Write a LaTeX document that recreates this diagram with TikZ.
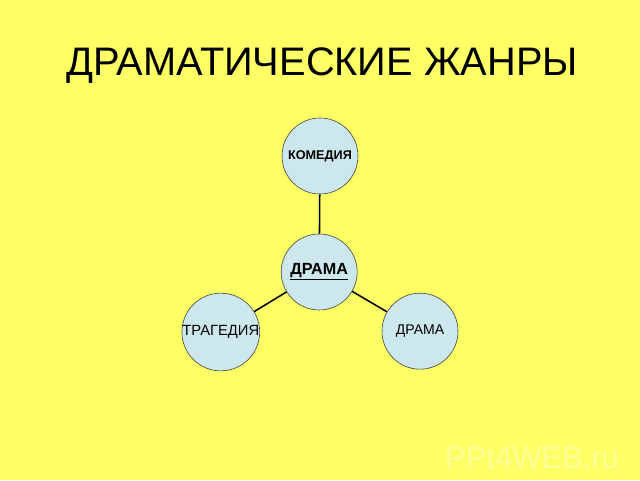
\documentclass[tikz,border=0pt]{standalone}
\usepackage{fontspec}
\setmainfont{Liberation Sans}
\usepackage{xcolor}
\definecolor{slidebg}{RGB}{255,255,102}
\definecolor{genrefill}{RGB}{204,232,236}
\definecolor{genreline}{RGB}{60,60,60}
\definecolor{wmark}{RGB}{255,255,150}

\begin{document}
\begin{tikzpicture}[genre/.style={circle,draw=genreline,fill=genrefill,thin,minimum size=1.9cm,inner sep=0pt}]
%\draw[step=1cm,gray,very thin] (0,0) grid (16,12); %background grid
\fill[slidebg] (0,0) rectangle (16,12);
\useasboundingbox (0,0) rectangle (16,12);

\node[anchor=base] (title) at (8.05,10.12) {\fontsize{28.3}{30}\selectfont ДРАМАТИЧЕСКИЕ ЖАНРЫ};

\node[genre] (comedy) at (8.0,8.1) {\fontsize{9}{10}\selectfont\bfseries КОМЕДИЯ};
\node[genre] (drama) at (7.98,5.2) {\fontsize{11.5}{13}\selectfont\bfseries\underline{ДРАМА}};
\node[genre] (tragedy) at (5.52,3.7) {\fontsize{10.5}{12}\selectfont ТРАГЕДИЯ};
\node[genre] (drama2) at (10.5,3.72) {\fontsize{10}{12}\selectfont ДРАМА};

\draw[line width=1.1pt] (comedy)--(drama);
\draw[line width=1.1pt] (drama)--(tragedy);
\draw[line width=1.1pt] (drama)--(drama2);

\node[text=wmark] (mark) at (13.3,0.55) {\fontsize{22}{24}\selectfont PPt4WEB.ru};

\end{tikzpicture}
\end{document}
